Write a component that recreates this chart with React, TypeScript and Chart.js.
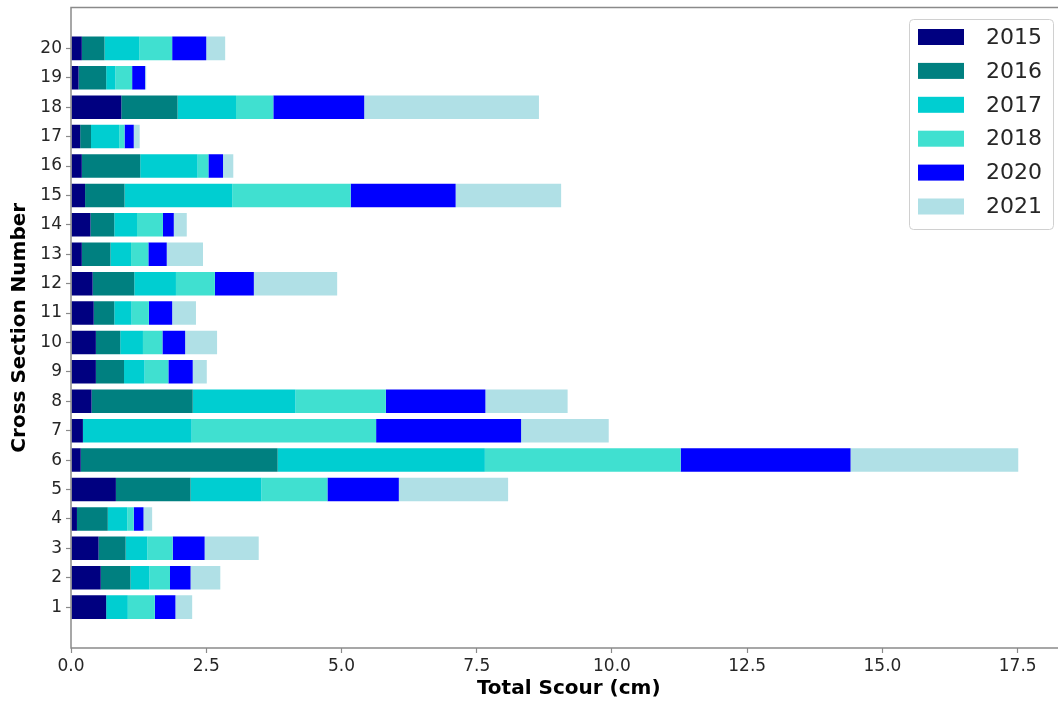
import React, { useEffect, useRef } from "react";
import { Chart, registerables } from "chart.js";

Chart.register(...registerables);

const crossSections = [1, 2, 3, 4, 5, 6, 7, 8, 9, 10, 11, 12, 13, 14, 15, 16, 17, 18, 19, 20];
const years = ["2015", "2016", "2017", "2018", "2020", "2021"];
const yearColors = ["#000080", "#008080", "#00CED1", "#40E0D0", "#0000FF", "#B0E0E6"];

const scour2015 = [0.65, 0.55, 0.51, 0.11, 0.83, 0.18, 0.22, 0.38, 0.46, 0.46, 0.42, 0.40, 0.20, 0.36, 0.26, 0.20, 0.17, 0.93, 0.14, 0.20];
const scour2016 = [0.0, 0.55, 0.50, 0.57, 1.38, 3.64, 0.0, 1.87, 0.52, 0.45, 0.38, 0.77, 0.53, 0.44, 0.73, 1.08, 0.20, 1.04, 0.51, 0.42];
const scour2017 = [0.40, 0.35, 0.40, 0.36, 1.31, 3.83, 2.01, 1.90, 0.38, 0.42, 0.32, 0.77, 0.38, 0.42, 1.99, 1.06, 0.52, 1.08, 0.17, 0.64];
const scour2018 = [0.50, 0.38, 0.47, 0.12, 1.22, 3.62, 3.41, 1.67, 0.44, 0.36, 0.32, 0.72, 0.32, 0.48, 2.19, 0.20, 0.10, 0.69, 0.31, 0.61];
const scour2020 = [0.38, 0.38, 0.59, 0.18, 1.32, 3.14, 2.68, 1.84, 0.45, 0.42, 0.43, 0.72, 0.34, 0.20, 1.94, 0.27, 0.17, 1.68, 0.24, 0.63];
const scour2021 = [0.31, 0.55, 1.00, 0.16, 2.02, 3.10, 1.62, 1.52, 0.26, 0.59, 0.44, 1.54, 0.67, 0.24, 1.95, 0.19, 0.11, 3.23, 0.02, 0.35];

const seriesValues = [scour2015, scour2016, scour2017, scour2018, scour2020, scour2021];

const xTicks = [0, 2.5, 5, 7.5, 10, 12.5, 15, 17.5];
const xTitle = "Total Scour (cm)";
const yTitle = "Cross Section Number";

const FONT = "'DejaVu Sans', sans-serif";
const CANVAS_W = 1075;
const CANVAS_H = 702;
const AXIS_GRAY = "#8a8a8a";

const decorPlugin = {
  id: "decor",
  afterDraw(chart: any) {
    const ctx = chart.ctx as CanvasRenderingContext2D;
    const a = chart.chartArea;
    ctx.save();
    // frame
    ctx.strokeStyle = AXIS_GRAY;
    ctx.lineWidth = 1.5;
    ctx.strokeRect(a.left, a.top, a.right - a.left, a.bottom - a.top);

    // axis titles
    ctx.fillStyle = "#000000";
    ctx.font = `bold 20px ${FONT}`;
    ctx.textAlign = "center";
    ctx.textBaseline = "middle";
    ctx.fillText(xTitle, (a.left + a.right) / 2, 689);
    ctx.save();
    ctx.translate(20, (a.top + a.bottom) / 2);
    ctx.rotate(-Math.PI / 2);
    ctx.fillText(yTitle, 0, 0);
    ctx.restore();

    // legend
    const lx = 909, ly = 19, lw = 144, lh = 210;
    ctx.beginPath();
    (ctx as any).roundRect(lx + 0.5, ly + 0.5, lw, lh, 4);
    ctx.fillStyle = "rgba(255,255,255,0.85)";
    ctx.fill();
    ctx.strokeStyle = "#d0d0d0";
    ctx.lineWidth = 1;
    ctx.stroke();
    ctx.font = `22px ${FONT}`;
    ctx.textAlign = "left";
    ctx.textBaseline = "middle";
    chart.data.datasets.forEach((ds: any, i: number) => {
      const cy = 37 + i * 33.9;
      ctx.fillStyle = ds.backgroundColor;
      ctx.fillRect(918, cy - 8, 46, 16);
      ctx.fillStyle = "#262626";
      ctx.fillText(ds.label, 986, cy + 1);
    });
    ctx.restore();
  },
};

export default function App() {
  const ref = useRef<HTMLCanvasElement | null>(null);

  useEffect(() => {
    if (!ref.current) return;
    const chart = new Chart(ref.current, {
      type: "bar",
      data: {
        datasets: years.map((yr, k) => ({
          label: yr,
          data: crossSections.map((c, i) => ({ x: seriesValues[k][i], y: c })),
          backgroundColor: yearColors[k],
          borderWidth: 0,
          barPercentage: 0.8,
          categoryPercentage: 1.0,
        })),
      },
      options: {
        indexAxis: "y",
        responsive: false,
        animation: false,
        layout: { padding: { top: 7.5, right: 8.6, left: 0, bottom: 0 } },
        plugins: {
          legend: { display: false },
          tooltip: { enabled: false },
        },
        scales: {
          x: {
            type: "linear",
            stacked: true,
            min: 0,
            max: 18.4,
            offset: false,
            grid: { display: true, offset: false, drawOnChartArea: false, drawTicks: true, tickLength: 5, tickColor: AXIS_GRAY, tickWidth: 1.2 },
            border: { display: false },
            afterBuildTicks: (scale: any) => {
              scale.ticks = xTicks.map((v) => ({ value: v }));
            },
            afterFit: (scale: any) => {
              scale.height = 54;
              scale.paddingLeft = 0;
              scale.paddingRight = 0;
            },
            ticks: {
              autoSkip: false,
              maxRotation: 0,
              padding: 3,
              color: "#262626",
              font: { family: FONT, size: 17 },
              callback: (v: any) => Number(v).toFixed(1),
            },
          },
          y: {
            type: "linear",
            stacked: true,
            offset: false,
            min: crossSections[0] - 1.39,
            max: crossSections[crossSections.length - 1] + 1.39,
            grid: { display: true, offset: false, drawOnChartArea: false, drawTicks: true, tickLength: 5, tickColor: AXIS_GRAY, tickWidth: 1.2 },
            border: { display: false },
            afterBuildTicks: (scale: any) => {
              scale.ticks = crossSections.map((c) => ({ value: c }));
            },
            afterFit: (scale: any) => {
              scale.width = 71;
              scale.paddingTop = 0;
              scale.paddingBottom = 0;
            },
            ticks: {
              autoSkip: false,
              padding: 4,
              color: "#262626",
              font: { family: FONT, size: 17 },
              callback: (v: any) => String(v),
            },
          },
        },
      } as any,
      plugins: [decorPlugin],
    });
    return () => chart.destroy();
  }, []);

  return (
    <div style={{ position: "fixed", left: 0, top: 0, width: 1058, height: 702, overflow: "hidden", background: "#ffffff" }}>
      <canvas ref={ref} width={CANVAS_W} height={CANVAS_H} style={{ width: CANVAS_W, height: CANVAS_H, display: "block" }} />
    </div>
  );
}
